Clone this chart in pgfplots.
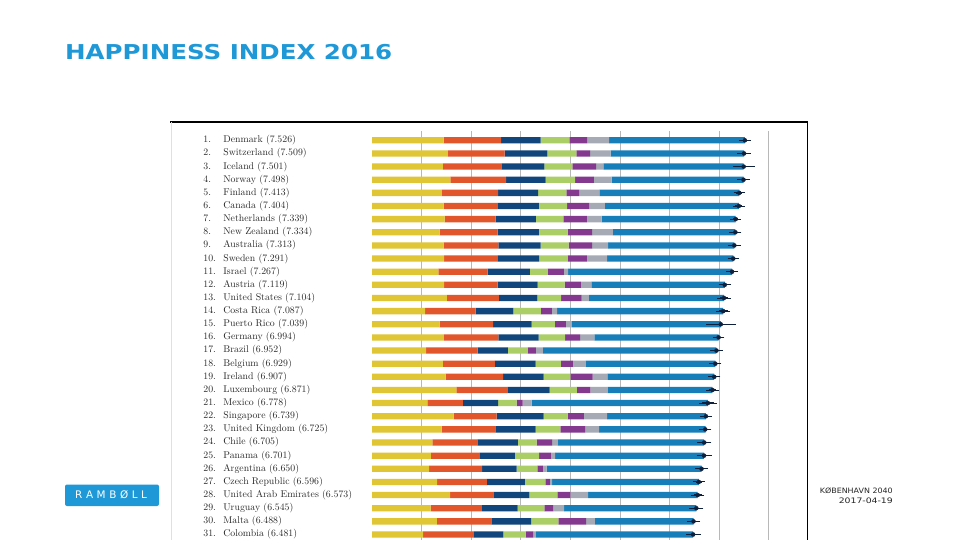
\documentclass[border=0pt]{standalone}
\usepackage{pgfplots}
\pgfplotsset{compat=1.18}
\usepackage{pgfplotstable}
\usepackage{graphicx}
\usepackage{fontspec}
\newfontfamily\dejavu{DejaVu Sans}
\definecolor{cgdp}{RGB}{224,198,52}
\definecolor{cfam}{RGB}{226,86,44}
\definecolor{chea}{RGB}{16,70,124}
\definecolor{cfre}{RGB}{172,206,102}
\definecolor{cgen}{RGB}{132,56,142}
\definecolor{ctru}{RGB}{166,170,180}
\definecolor{cdys}{RGB}{24,126,186}
\definecolor{cerr}{RGB}{14,32,60}
\definecolor{titleblue}{RGB}{30,152,215}
\definecolor{labelgray}{RGB}{40,40,40}
\newcommand\rk[1]{\makebox[20pt][l]{#1}}

\pgfplotstableread{
y score gdp fam hea fre gen tru dys err
1 7.526 1.44178 1.16374 0.79504 0.57941 0.36171 0.44453 2.73939 0.066
2 7.509 1.52733 1.14524 0.86303 0.58557 0.28083 0.41203 2.69463 0.081
3 7.501 1.42666 1.18326 0.86733 0.56624 0.47678 0.14975 2.83137 0.168
4 7.498 1.57744 1.12690 0.79579 0.59609 0.37895 0.35776 2.66465 0.077
5 7.413 1.40598 1.13464 0.81091 0.57104 0.25492 0.41004 2.82596 0.062
6 7.404 1.44015 1.09610 0.82760 0.57370 0.44834 0.31329 2.70485 0.069
7 7.339 1.46468 1.02912 0.81231 0.55211 0.47416 0.29927 2.70749 0.055
8 7.334 1.36066 1.17278 0.83096 0.58147 0.49401 0.41904 2.47553 0.070
9 7.313 1.44443 1.10476 0.85120 0.56837 0.47407 0.32331 2.54650 0.072
10 7.291 1.45181 1.08764 0.83121 0.58218 0.38254 0.40867 2.54734 0.064
11 7.267 1.33766 0.99537 0.84917 0.36432 0.32288 0.08728 3.31029 0.068
12 7.119 1.45038 1.08383 0.80565 0.54355 0.32865 0.21348 2.69343 0.074
13 7.104 1.50796 1.04782 0.77900 0.48163 0.41077 0.14868 2.72782 0.084
14 7.087 1.06879 1.02152 0.76146 0.55225 0.22553 0.10547 3.35168 0.088
15 7.039 1.35943 1.08113 0.77758 0.46823 0.22202 0.12275 3.00766 0.245
16 6.994 1.44787 1.09774 0.81487 0.53466 0.30452 0.28551 2.50931 0.064
17 6.952 1.08754 1.03938 0.61415 0.40425 0.15776 0.14166 3.50733 0.077
18 6.929 1.42539 1.05249 0.81959 0.51354 0.24240 0.26248 2.61355 0.068
19 6.907 1.48341 1.16157 0.81455 0.54008 0.44963 0.29754 2.15988 0.071
20 6.871 1.69752 1.03999 0.84542 0.54870 0.27571 0.35329 2.10812 0.072
21 6.778 1.11508 0.71460 0.71143 0.37709 0.11735 0.18355 3.55906 0.124
22 6.739 1.64555 0.86758 0.94719 0.48770 0.32706 0.46987 1.99375 0.065
23 6.725 1.40283 1.08672 0.80991 0.50036 0.50156 0.28123 2.14999 0.071
24 6.705 1.21670 0.90587 0.81883 0.37789 0.31595 0.11451 2.95505 0.090
25 6.701 1.18306 0.98912 0.70835 0.48927 0.24018 0.08423 3.00559 0.100
26 6.650 1.15137 1.06612 0.69711 0.42284 0.10989 0.07296 3.12985 0.079
27 6.596 1.30915 1.00793 0.76376 0.41418 0.09472 0.04176 2.96578 0.065
28 6.573 1.57352 0.87114 0.72993 0.56215 0.26591 0.35561 2.21507 0.079
29 6.545 1.18157 1.03143 0.72183 0.54388 0.18056 0.21394 2.67139 0.089
30 6.488 1.30782 1.09879 0.80315 0.54994 0.56237 0.17554 1.99032 0.079
31 6.481 1.03032 1.02169 0.59659 0.44735 0.15626 0.05399 3.17480 0.097
}\data

\begin{document}
\begin{tikzpicture}
\useasboundingbox (0pt,0pt) rectangle (960pt,-540pt);
\fill[white] (0pt,0pt) rectangle (960pt,-540pt);

% title
\node[anchor=base west, inner sep=0pt, text=titleblue] at (65pt,-59.3pt)
  {\resizebox{327pt}{15.2pt}{\dejavu\bfseries HAPPINESS INDEX 2016}};

\begin{axis}[
  at={(372.2pt,-131pt)}, anchor=north west,
  scale only axis, width=435.3pt, height=409pt,
  xbar stacked, bar width=6.3pt,
  xmin=0, xmax=8.79, ymin=0.292, ymax=31.42, y dir=reverse,
  axis line style={draw=none},
  xtick={1,2,3,4,5,6,7,8}, xticklabels={},
  xmajorgrids, grid style={black!28, line width=0.6pt},
  major tick length=0pt,
  ytick={1,...,31},
  yticklabels={
    {\rk{1.}Denmark (7.526)},
    {\rk{2.}Switzerland (7.509)},
    {\rk{3.}Iceland (7.501)},
    {\rk{4.}Norway (7.498)},
    {\rk{5.}Finland (7.413)},
    {\rk{6.}Canada (7.404)},
    {\rk{7.}Netherlands (7.339)},
    {\rk{8.}New Zealand (7.334)},
    {\rk{9.}Australia (7.313)},
    {\rk{10.}Sweden (7.291)},
    {\rk{11.}Israel (7.267)},
    {\rk{12.}Austria (7.119)},
    {\rk{13.}United States (7.104)},
    {\rk{14.}Costa Rica (7.087)},
    {\rk{15.}Puerto Rico (7.039)},
    {\rk{16.}Germany (6.994)},
    {\rk{17.}Brazil (6.952)},
    {\rk{18.}Belgium (6.929)},
    {\rk{19.}Ireland (6.907)},
    {\rk{20.}Luxembourg (6.871)},
    {\rk{21.}Mexico (6.778)},
    {\rk{22.}Singapore (6.739)},
    {\rk{23.}United Kingdom (6.725)},
    {\rk{24.}Chile (6.705)},
    {\rk{25.}Panama (6.701)},
    {\rk{26.}Argentina (6.650)},
    {\rk{27.}Czech Republic (6.596)},
    {\rk{28.}United Arab Emirates (6.573)},
    {\rk{29.}Uruguay (6.545)},
    {\rk{30.}Malta (6.488)},
    {\rk{31.}Colombia (6.481)}
  },
  yticklabel style={anchor=west, inner sep=0pt, xshift=-169pt,
    font=\fontsize{9.8}{11}\selectfont, text=labelgray},
  every axis plot/.append style={draw=none},
]
\addplot[fill=cgdp] table[x=gdp, y=y] {\data};
\addplot[fill=cfam] table[x=fam, y=y] {\data};
\addplot[fill=chea] table[x=hea, y=y] {\data};
\addplot[fill=cfre] table[x=fre, y=y] {\data};
\addplot[fill=cgen] table[x=gen, y=y] {\data};
\addplot[fill=ctru] table[x=tru, y=y] {\data};
\addplot[fill=cdys] table[x=dys, y=y] {\data};
\end{axis}

\begin{axis}[
  at={(372.2pt,-131pt)}, anchor=north west,
  scale only axis, width=435.3pt, height=409pt,
  xmin=0, xmax=8.79, ymin=0.292, ymax=31.42, y dir=reverse,
  hide axis,
]
\addplot[cerr, only marks, mark=none,
  error bars/.cd, x dir=both, x explicit,
  error bar style={line width=1.3pt, cerr},
  error mark options={cerr, mark size=2.6pt, line width=0.9pt}]
  table[x=score, y=y, x error=err] {\data};
\end{axis}

% picture frame
\draw[black, line width=1.2pt] (170pt,-122pt) -- (808.2pt,-122pt);
\draw[black, line width=1.5pt] (807.5pt,-121.4pt) -- (807.5pt,-540pt);
\draw[black!12, line width=0.6pt] (171pt,-122pt) -- (171pt,-540pt);

% logo
\fill[titleblue, rounded corners=2pt] (65pt,-484.5pt) rectangle (159pt,-506pt);
\node[anchor=base west, inner sep=0pt, text=white] at (75pt,-498.5pt)
  {\fontsize{10.4}{12}\dejavu R\hspace{3.6pt}A\hspace{3.6pt}M\hspace{3.6pt}B\hspace{3.6pt}Ø\hspace{3.6pt}L\hspace{3.6pt}L};

% footer text
\node[anchor=base east, inner sep=0pt, text=black!85] at (893pt,-493.3pt)
  {\resizebox{73pt}{5.6pt}{\dejavu KØBENHAVN 2040}};
\node[anchor=base east, inner sep=0pt, text=black!85] at (893pt,-503.3pt)
  {\resizebox{54pt}{5.6pt}{\dejavu 2017-04-19}};
\end{tikzpicture}
\end{document}
